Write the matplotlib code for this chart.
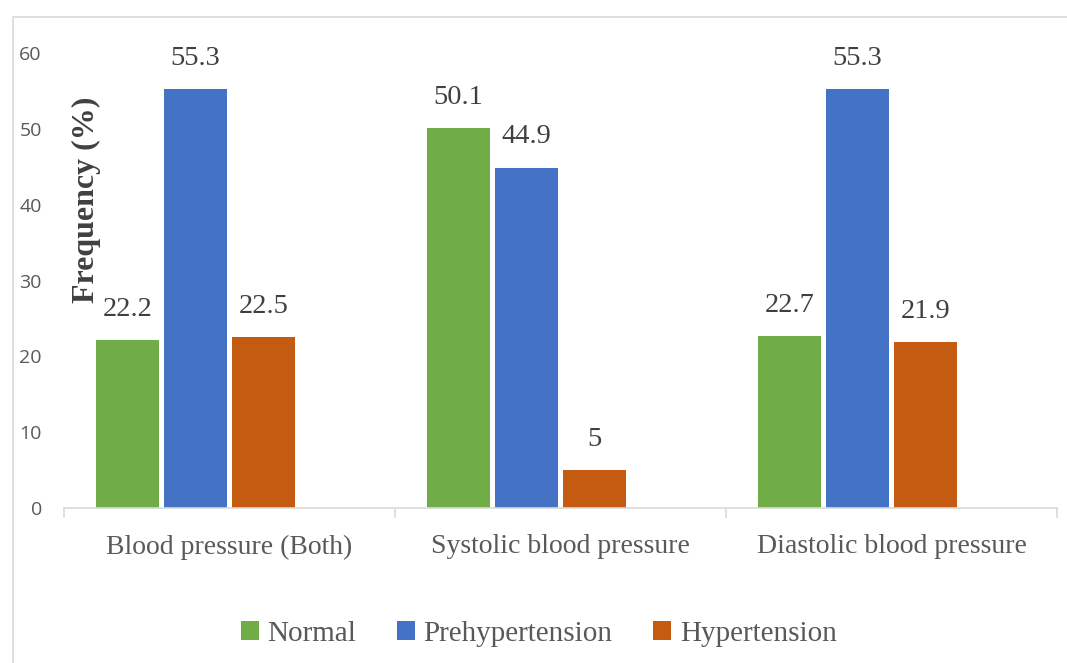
import matplotlib
matplotlib.use("Agg")
import matplotlib.pyplot as plt
from matplotlib.patches import Rectangle
import numpy as np

categories = ["Blood pressure (Both)", "Systolic blood pressure", "Diastolic blood pressure"]
series_names = ["Normal", "Prehypertension", "Hypertension"]
normal = [22.2, 50.1, 22.7]
prehypertension = [55.3, 44.9, 55.3]
hypertension = [22.5, 5, 21.9]
yticks = [0, 10, 20, 30, 40, 50, 60]

colors = ["#70AD47", "#4472C4", "#C55A11"]
values = [normal, prehypertension, hypertension]

fig = plt.figure(figsize=(10.67, 6.63), dpi=100)
fig.patches.append(Rectangle((13/1067, -0.1), 1.2, 1 - 17/663 + 0.1, transform=fig.transFigure,
                             fill=False, edgecolor="#d9d9d9", linewidth=1.2))
ax = fig.add_axes([64/1067, 1 - 508/663, (1057-64)/1067, (508-53)/663])

x = np.arange(len(categories))
step = 68/331
width = 63/331
offsets = [-1.5*step, -0.5*step, 0.5*step]
serif = "Liberation Serif"
for vals, name, c, off in zip(values, series_names, colors, offsets):
    bars = ax.bar(x + off, vals, width=width, color=c, label=name)
    for b, v in zip(bars, vals):
        ax.annotate(f"{v:g}", (b.get_x() + b.get_width()/2, v), xytext=(0, 13),
                    textcoords="offset points", ha="center", va="bottom",
                    fontsize=20.5, family=serif, color="#404040")

ax.set_xlim(-0.5, 2.5)
ax.set_ylim(0, 60)
ax.set_yticks(yticks)
ax.set_yticklabels([str(t) for t in yticks], fontsize=14, family="Open Sans", color="#595959")
ax.tick_params(axis="y", length=0, pad=16)
ax.set_xticks(x)
ax.set_xticklabels(categories, fontsize=20, family=serif, color="#595959")
ax.tick_params(axis="x", which="major", length=0, pad=19)
ax.set_xticks([-0.5, 0.5, 1.5, 2.5], minor=True)
ax.tick_params(axis="x", which="minor", length=7, color="#d9d9d9", width=1.2)
for s in ["top", "right", "left"]:
    ax.spines[s].set_visible(False)
ax.spines["bottom"].set_color("#d9d9d9")
ax.spines["bottom"].set_linewidth(1.2)

ax.text(0.023, 0.678, "Frequency (%)", transform=ax.transAxes, rotation=90,
        ha="center", va="center", fontsize=23, fontweight="bold", family=serif, color="#404040")

fig.legend(loc="center", bbox_to_anchor=(539/1067, 1 - 634/663), ncol=3, frameon=False,
           prop={"family": serif, "size": 21}, labelcolor="#595959",
           handlelength=0.6, handleheight=0.6, handletextpad=0.3, columnspacing=1.4)

fig.savefig("out.png", dpi=100)
